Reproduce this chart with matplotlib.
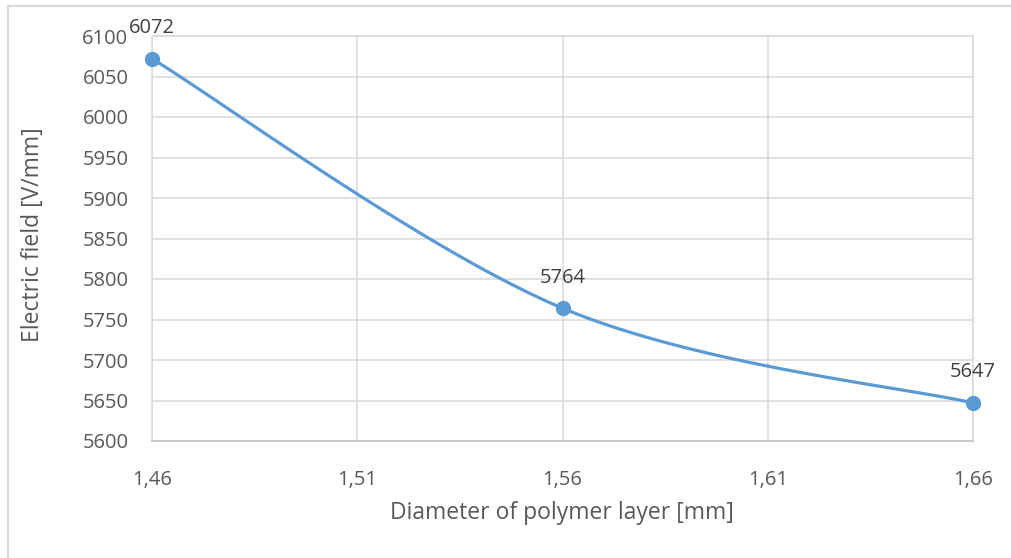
import numpy as np
import matplotlib.pyplot as plt
from matplotlib.lines import Line2D
from matplotlib.ticker import FuncFormatter, MultipleLocator

# Data
diameter = [1.46, 1.56, 1.66]          # mm
field = [6072, 5764, 5647]             # V/mm

x_ticks = [1.46, 1.51, 1.56, 1.61, 1.66]

plt.rcParams['font.family'] = ['Open Sans', 'DejaVu Sans']

line_color = '#5B9BD5'
text_color = '#595959'
grid_color = '#D9D9D9'


def excel_smooth(xs, ys, n=60):
    # Catmull-Rom style bezier, like Excel's "smoothed line"
    px = [xs[0]] + list(xs) + [xs[-1]]
    py = [ys[0]] + list(ys) + [ys[-1]]
    t = np.linspace(0, 1, n)
    out_x, out_y = [], []
    for i in range(1, len(px) - 2):
        p1 = np.array([px[i], py[i]])
        p2 = np.array([px[i + 1], py[i + 1]])
        c1 = p1 + (np.array([px[i + 1], py[i + 1]]) - np.array([px[i - 1], py[i - 1]])) / 6
        c2 = p2 - (np.array([px[i + 2], py[i + 2]]) - np.array([px[i], py[i]])) / 6
        b = ((1 - t) ** 3)[:, None] * p1 + (3 * (1 - t) ** 2 * t)[:, None] * c1 \
            + (3 * (1 - t) * t ** 2)[:, None] * c2 + (t ** 3)[:, None] * p2
        out_x.extend(b[:, 0])
        out_y.extend(b[:, 1])
    return out_x, out_y


fig = plt.figure(figsize=(10.12, 5.58), dpi=100)
ax = fig.add_axes([152 / 1012, 1 - 441 / 558, (973 - 152) / 1012, (441 - 36) / 558])

sx, sy = excel_smooth(diameter, field)
ax.plot(sx, sy, color=line_color, linewidth=2.3, solid_capstyle='round', zorder=3)
ax.plot(diameter, field, 'o', color=line_color, markersize=10, zorder=4, clip_on=False)

for x, y in zip(diameter, field):
    ax.annotate(str(y), (x, y), xytext=(0, 22), textcoords='offset points',
                ha='center', va='center', fontsize=14.5, color='#404040')

ax.set_xlim(1.46, 1.66)
ax.set_ylim(5600, 6100)
ax.set_xticks(x_ticks)
ax.yaxis.set_major_locator(MultipleLocator(50))
ax.xaxis.set_major_formatter(FuncFormatter(lambda v, p: f'{v:.2f}'.replace('.', ',')))
ax.yaxis.set_major_formatter(FuncFormatter(lambda v, p: f'{v:.0f}'))

ax.grid(True, color=grid_color, linewidth=1.1)
ax.set_axisbelow(True)
for side in ['top', 'right', 'left']:
    ax.spines[side].set_color(grid_color)
    ax.spines[side].set_linewidth(1.1)
ax.spines['bottom'].set_color('#BFBFBF')
ax.spines['bottom'].set_linewidth(1.1)

ax.tick_params(length=0, labelsize=14.5, labelcolor=text_color)
ax.tick_params(axis='x', pad=21)
ax.tick_params(axis='y', pad=17)

fig.text(562 / 1012, 1 - 513 / 558, 'Diameter of polymer layer [mm]', ha='center', va='center',
         fontsize=16.5, color=text_color)
fig.text(33 / 1012, 1 - 235 / 558, 'Electric field [V/mm]', ha='center', va='center',
         rotation=90, fontsize=16.5, color=text_color)

# outer chart frame (cut at right and bottom)
fig.add_artist(Line2D([8 / 1012, 8 / 1012], [0, 1 - 6 / 558], color='#D9D9D9', linewidth=1.5))
fig.add_artist(Line2D([8 / 1012, 1], [1 - 6 / 558, 1 - 6 / 558], color='#D9D9D9', linewidth=1.5))

fig.savefig('out.png', dpi=100)
